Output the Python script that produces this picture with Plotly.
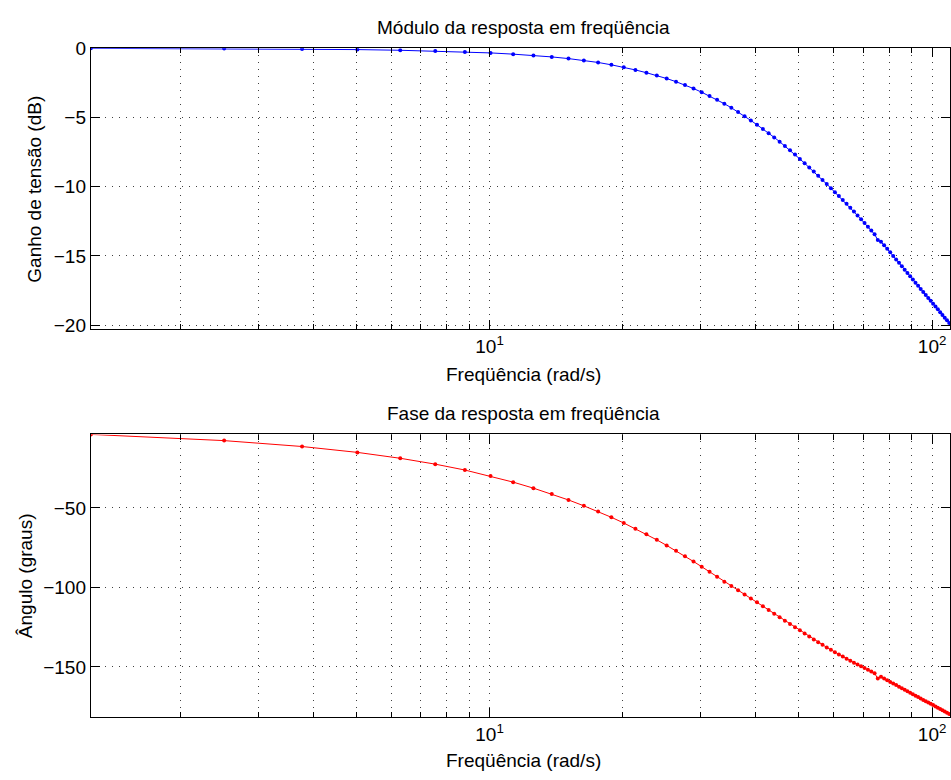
import math
import plotly.graph_objects as go

# ---------------- data ----------------
freq_rad_s = [
    1.2566, 2.5133, 3.7699, 5.0265, 6.2832, 7.5398, 8.7965, 10.0531, 11.3097, 12.5664,
    13.8230, 15.0796, 16.3363, 17.5929, 18.8496, 20.1062, 21.3628, 22.6195, 23.8761, 25.1327,
    26.3894, 27.6460, 28.9027, 30.1593, 31.4159, 32.6726, 33.9292, 35.1858, 36.4425, 37.6991,
    38.9557, 40.2124, 41.4690, 42.7257, 43.9823, 45.2389, 46.4956, 47.7522, 49.0088, 50.2655,
    51.5221, 52.7788, 54.0354, 55.2920, 56.5487, 57.8053, 59.0619, 60.3186, 61.5752, 62.8319,
    64.0885, 65.3451, 66.6018, 67.8584, 69.1150, 70.3717, 71.6283, 72.8850, 74.1416, 75.3982,
    76.6549, 77.9115, 79.1681, 80.4248, 81.6814, 82.9380, 84.1947, 85.4513, 86.7080, 87.9646,
    89.2212, 90.4779, 91.7345, 92.9911, 94.2478, 95.5044, 96.7611, 98.0177, 99.2743, 100.5310,
    101.7876, 103.0442, 104.3009, 105.5575, 106.8142, 108.0708, 109.3274,
]

gain_db = [
    -0.01, -0.03, -0.06, -0.10, -0.15, -0.21, -0.27, -0.34, -0.43, -0.52,
    -0.63, -0.75, -0.88, -1.03, -1.20, -1.38, -1.57, -1.77, -1.97, -2.19,
    -2.42, -2.66, -2.91, -3.18, -3.45, -3.73, -4.01, -4.30, -4.60, -4.91,
    -5.22, -5.53, -5.83, -6.14, -6.44, -6.75, -7.06, -7.37, -7.68, -8.00,
    -8.31, -8.61, -8.91, -9.21, -9.51, -9.81, -10.11, -10.40, -10.68, -10.96,
    -11.24, -11.52, -11.80, -12.08, -12.36, -12.63, -12.90, -13.17, -13.44, -13.85,
    -13.98, -14.23, -14.48, -14.74, -15.00, -15.25, -15.50, -15.75, -15.99, -16.23,
    -16.47, -16.70, -16.93, -17.15, -17.38, -17.60, -17.82, -18.03, -18.24, -18.45,
    -18.66, -18.86, -19.06, -19.26, -19.46, -19.65, -19.85,
]

phase_deg = [
    -3.8, -7.7, -11.4, -15.1, -18.8, -22.5, -26.2, -30.0, -33.8, -37.6,
    -41.3, -45.0, -48.7, -52.3, -55.9, -59.5, -63.1, -66.6, -70.1, -73.6,
    -77.0, -80.4, -83.7, -87.0, -90.2, -93.3, -96.4, -99.1, -101.8, -104.4,
    -106.9, -109.4, -111.8, -114.2, -116.5, -118.7, -120.9, -123.0, -125.0, -127.0,
    -129.0, -130.9, -132.7, -134.5, -136.1, -137.7, -139.2, -140.7, -142.1, -143.5,
    -144.8, -146.1, -147.3, -148.5, -149.6, -150.7, -151.8, -152.9, -154.0, -157.3,
    -156.1, -157.2, -158.3, -159.4, -160.4, -161.4, -162.4, -163.4, -164.4, -165.3,
    -166.2, -167.1, -168.1, -168.9, -169.8, -170.7, -171.6, -172.4, -173.2, -174.0,
    -174.9, -175.7, -176.5, -177.3, -178.0, -178.8, -179.6,
]

x_major_ticks = [10, 100]
x_major_labels = ["10<sup>1</sup>", "10<sup>2</sup>"]
x_minor_ticks = [2, 3, 4, 5, 6, 7, 8, 9, 20, 30, 40, 50, 60, 70, 80, 90]
gain_ticks = [-20, -15, -10, -5, 0]
phase_ticks = [-150, -100, -50]

title_gain = "Módulo da resposta em freqüência"
title_phase = "Fase da resposta em freqüência"
xlabel = "Freqüência (rad/s)"
ylabel_gain = "Ganho de tensão (dB)"
ylabel_phase = "Ângulo (graus)"

# ---------------- layout geometry (pixels) ----------------
W, H = 951, 780
LEFT_PX = 91
DECADE_PX = 443.0
GAIN_TOP, GAIN_BOT = 39, 326
PH_TOP, PH_BOT = 433.3, 721.7
CENTER_X = 524

FONT = "Liberation Sans, Arial, Helvetica, sans-serif"
FS = 19
GRID = "rgba(0,0,0,0.75)"
GRIDDASH = "1px,6px"


def fx(p):
    return p / W


def fy(p):
    return 1 - p / H


x_lo = math.log10(freq_rad_s[0])
x_hi = x_lo + (W - LEFT_PX) / DECADE_PX

fig = go.Figure()
fig.add_trace(go.Scatter(
    x=freq_rad_s, y=gain_db, mode="lines+markers",
    line=dict(color="#0000ff", width=1),
    marker=dict(color="#0000ff", size=4),
    xaxis="x", yaxis="y", showlegend=False, cliponaxis=True,
))
fig.add_trace(go.Scatter(
    x=freq_rad_s, y=phase_deg, mode="lines+markers",
    line=dict(color="#ff0000", width=1),
    marker=dict(color="#ff0000", size=4),
    xaxis="x2", yaxis="y2", showlegend=False, cliponaxis=True,
))

xcommon = dict(
    type="log", range=[x_lo, x_hi], domain=[fx(LEFT_PX), 1.0],
    tickmode="array", tickvals=x_major_ticks, ticktext=x_major_labels,
    ticks="inside", ticklen=9, tickwidth=1, tickcolor="black",
    showline=True, linecolor="black", linewidth=1.3, mirror="ticks",
    showgrid=True, gridcolor=GRID, gridwidth=1, griddash=GRIDDASH,
    zeroline=False,
    tickfont=dict(family=FONT, size=FS, color="black"),
    minor=dict(tickmode="array", tickvals=x_minor_ticks, ticks="inside",
               ticklen=5, tickwidth=1, tickcolor="black",
               showgrid=True, gridcolor=GRID, gridwidth=1, griddash=GRIDDASH),
)
ycommon = dict(
    ticks="inside", ticklen=9, tickwidth=1, tickcolor="black",
    showline=True, linecolor="black", linewidth=1.3, mirror="ticks",
    showgrid=True, gridcolor=GRID, gridwidth=1, griddash=GRIDDASH,
    zeroline=False, tickmode="array",
    tickfont=dict(family=FONT, size=FS, color="black"),
)

fig.update_layout(
    width=W, height=H, autosize=False,
    margin=dict(l=0, r=0, t=0, b=0, pad=0),
    paper_bgcolor="white", plot_bgcolor="white",
    font=dict(family=FONT, size=FS, color="black"),
    xaxis=dict(xcommon, anchor="y"),
    yaxis=dict(ycommon, anchor="x", domain=[fy(GAIN_BOT), fy(GAIN_TOP)],
               range=[-20.3, 0.0], tickvals=gain_ticks),
    xaxis2=dict(xcommon, anchor="y2"),
    yaxis2=dict(ycommon, anchor="x2", domain=[fy(PH_BOT), fy(PH_TOP)],
                range=[-181.4, -3.8], tickvals=phase_ticks),
)

annots = [
    (title_gain, CENTER_X, 17.5, 0),
    (xlabel, CENTER_X, 372.5, 0),
    (title_phase, CENTER_X, 411.5, 0),
    (xlabel, CENTER_X, 766.5, 0),
    (ylabel_gain, 35, (GAIN_TOP + GAIN_BOT) / 2, -90),
    (ylabel_phase, 25.5, (PH_TOP + PH_BOT) / 2, -90),
]
for text, xp, yp, ang in annots:
    fig.add_annotation(
        text=text, x=fx(xp), y=fy(yp), xref="paper", yref="paper",
        xanchor="center", yanchor="middle", showarrow=False, textangle=ang,
        font=dict(family=FONT, size=FS, color="black"),
    )

fig.write_html("out.html", config={"displayModeBar": False})
